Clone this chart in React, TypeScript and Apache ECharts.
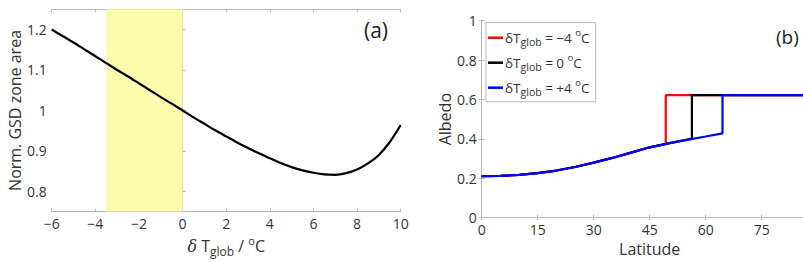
import React, { useEffect, useRef } from "react";
import * as echarts from "echarts";

// Panel (a): normalised GSD zone area vs global temperature change
const dTglob = [-6, -5.5, -5, -4.5, -4, -3.5, -3, -2.5, -2, -1.5, -1, -0.5, 0, 0.5, 1, 1.5, 2, 2.5, 3, 3.5, 4, 4.5, 5, 5.5, 6, 6.5, 7, 7.5, 8, 8.5, 9, 9.5, 10];
const gsdArea = [1.2, 1.184, 1.168, 1.151, 1.134, 1.117, 1.1, 1.084, 1.067, 1.05, 1.033, 1.017, 1.0, 0.983, 0.967, 0.951, 0.936, 0.921, 0.907, 0.894, 0.882, 0.87, 0.86, 0.852, 0.846, 0.842, 0.841, 0.845, 0.854, 0.869, 0.89, 0.922, 0.964];
const bandRange = [-3.5, 0];
const aYTicks = [0.8, 0.9, 1, 1.1, 1.2];

// Panel (b): albedo vs latitude
const latRed = [0, 5, 10, 15, 20, 25, 30, 35, 40, 45, 49.3, 49.3, 90];
const albRed = [0.21, 0.212, 0.217, 0.226, 0.239, 0.257, 0.279, 0.303, 0.33, 0.357, 0.373, 0.622, 0.622];
const latBlack = [0, 5, 10, 15, 20, 25, 30, 35, 40, 45, 50, 55, 56.3, 56.3, 90];
const albBlack = [0.21, 0.212, 0.217, 0.226, 0.239, 0.257, 0.279, 0.303, 0.33, 0.357, 0.377, 0.396, 0.401, 0.622, 0.622];
const latBlue = [0, 5, 10, 15, 20, 25, 30, 35, 40, 45, 50, 55, 60, 64.5, 64.5, 90];
const albBlue = [0.21, 0.212, 0.217, 0.226, 0.239, 0.257, 0.279, 0.303, 0.33, 0.357, 0.377, 0.395, 0.412, 0.428, 0.622, 0.622];
const legendNames = ["−4", "0", "+4"];

const FONT = "Open Sans";
const AXIS_GRAY = "#b8b8b8";
const LABEL = "#333333";

function pairs(xs: number[], ys: number[]) {
  return xs.map((x, i) => [x, ys[i]]);
}

export default function App() {
  const ref = useRef<HTMLDivElement>(null);
  useEffect(() => {
    if (!ref.current) return;
    const chart = echarts.init(ref.current, null, { renderer: "svg" });

    const axisBase = {
      axisLine: { show: true, lineStyle: { color: AXIS_GRAY, width: 1 } },
      axisTick: { show: true, inside: true, length: 3, lineStyle: { color: AXIS_GRAY } },
      splitLine: { show: false },
    };
    const labelStyle = { color: LABEL, fontFamily: FONT, fontSize: 14 };
    const nameStyle = { color: LABEL, fontFamily: FONT, fontSize: 16 };
    const nameRich = {
      d: { fontFamily: "DejaVu Serif", fontStyle: "italic", fontSize: 16, color: LABEL },
      s: { fontFamily: FONT, fontSize: 12, color: LABEL, verticalAlign: "bottom", lineHeight: 12 },
      p: { fontFamily: FONT, fontSize: 11, color: LABEL, verticalAlign: "top", lineHeight: 11 },
    };

    const option: any = {
      animation: false,
      grid: [
        { left: 51.7, top: 9.3, width: 349, height: 211.4 },
        { left: 481.7, top: 20.7, width: 336, height: 208.6 },
      ],
      xAxis: [
        {
          gridIndex: 0, type: "value", min: -6, max: 10, interval: 2, position: "bottom",
          ...axisBase,
          axisLabel: { ...labelStyle, margin: 4.5, formatter: (v: number) => (v < 0 ? "−" + Math.abs(v) : String(v)) },
          name: "{d|δ} T{s|glob} / {p|o}C",
          nameLocation: "middle",
          nameGap: 22,
          nameTextStyle: { ...nameStyle, lineHeight: 22, rich: nameRich },
        },
        {
          gridIndex: 0, type: "value", min: -6, max: 10, interval: 2, position: "top",
          ...axisBase, axisLabel: { show: false },
        },
        {
          gridIndex: 1, type: "value", min: 0, max: 90, interval: 15, position: "bottom",
          ...axisBase,
          axisLabel: { ...labelStyle, margin: 4.5, formatter: (v: number) => (v >= 90 ? "" : String(v)) },
          name: "Latitude",
          nameLocation: "middle",
          nameGap: 21,
          nameTextStyle: { ...nameStyle },
        },
        {
          gridIndex: 1, type: "value", min: 0, max: 90, interval: 15, position: "top",
          ...axisBase, axisLabel: { show: false },
        },
      ],
      yAxis: [
        {
          gridIndex: 0, type: "value", min: 0.75, max: 1.25, position: "left",
          ...axisBase,
          axisTick: { ...axisBase.axisTick, customValues: aYTicks },
          axisLabel: { ...labelStyle, margin: 5, customValues: aYTicks },
          name: "Norm. GSD zone area",
          nameLocation: "middle",
          nameGap: 26,
          nameTextStyle: { ...nameStyle },
        },
        {
          gridIndex: 0, type: "value", min: 0.75, max: 1.25, position: "right",
          ...axisBase,
          axisTick: { ...axisBase.axisTick, customValues: aYTicks },
          axisLabel: { show: false, customValues: aYTicks },
        },
        {
          gridIndex: 1, type: "value", min: 0, max: 1, interval: 0.2, position: "left",
          ...axisBase,
          axisLabel: { ...labelStyle, margin: 5, formatter: (v: number) => String(Math.round(v * 10) / 10) },
          name: "Albedo",
          nameLocation: "middle",
          nameGap: 28.5,
          nameTextStyle: { ...nameStyle },
        },
        {
          gridIndex: 1, type: "value", min: 0, max: 1, interval: 0.2, position: "right",
          ...axisBase, axisLabel: { show: false },
        },
      ],
      legend: {
        show: true,
        orient: "vertical",
        left: 486,
        top: 27.7,
        padding: [0, 0, 0, 2],
        itemGap: 5,
        itemWidth: 15,
        itemHeight: 2.5,
        icon: "rect",
        z: 5,
        data: ["red", "black", "blue"].map((n) => ({ name: n })),
        formatter: (name: string) => {
          const idx = ["red", "black", "blue"].indexOf(name);
          return "{m|δT}{s|glob}{m| = " + legendNames[idx] + " }{p|o}{m|C}";
        },
        textStyle: {
          color: LABEL,
          fontFamily: FONT,
          fontSize: 13.5,
          lineHeight: 20,
          padding: [0, 0, 0, -3],
          rich: {
            m: { fontFamily: FONT, fontSize: 13.5, color: LABEL, lineHeight: 20 },
            s: { fontFamily: FONT, fontSize: 10.5, color: LABEL, verticalAlign: "bottom", lineHeight: 10 },
            p: { fontFamily: FONT, fontSize: 9.5, color: LABEL, verticalAlign: "top", lineHeight: 9 },
          },
        },
      },
      graphic: [
        {
          type: "rect",
          z: 3,
          shape: { x: 486, y: 22.7, width: 109.7, height: 79 },
          style: { fill: "#ffffff", stroke: AXIS_GRAY, lineWidth: 1 },
        },
        {
          type: "text",
          z: 5,
          x: 364,
          y: 30,
          style: { text: "(a)", fill: "#222", font: `21px "${FONT}"`, textVerticalAlign: "middle" },
        },
        {
          type: "text",
          z: 5,
          x: 776,
          y: 37,
          style: { text: "(b)", fill: "#222", font: `19px "${FONT}"`, textVerticalAlign: "middle" },
        },
      ],
      series: [
        {
          name: "gsd",
          type: "line",
          xAxisIndex: 0,
          yAxisIndex: 0,
          data: pairs(dTglob, gsdArea),
          smooth: 0.3,
          showSymbol: false,
          lineStyle: { color: "#000", width: 2.2 },
          z: 3,
          markArea: {
            silent: true,
            itemStyle: { color: "#fdfcad" },
            data: [[{ xAxis: bandRange[0] }, { xAxis: bandRange[1] }]],
          },
        },
        {
          name: "red",
          type: "line",
          xAxisIndex: 2,
          yAxisIndex: 2,
          data: pairs(latRed, albRed),
          showSymbol: false,
          color: "#ff0000",
          lineStyle: { color: "#ff0000", width: 2.2 },
        },
        {
          name: "black",
          type: "line",
          xAxisIndex: 2,
          yAxisIndex: 2,
          data: pairs(latBlack, albBlack),
          showSymbol: false,
          color: "#000000",
          lineStyle: { color: "#000000", width: 2.2 },
        },
        {
          name: "blue",
          type: "line",
          xAxisIndex: 2,
          yAxisIndex: 2,
          data: pairs(latBlue, albBlue),
          showSymbol: false,
          color: "#0000ff",
          lineStyle: { color: "#0000ff", width: 2.2 },
        },
      ],
    };
    chart.setOption(option);
    return () => chart.dispose();
  }, []);

  return (
    <div style={{ position: "fixed", left: 0, top: 0, width: 803, height: 262, overflow: "hidden", background: "#fff" }}>
      <div ref={ref} style={{ width: 830, height: 262 }} />
    </div>
  );
}
